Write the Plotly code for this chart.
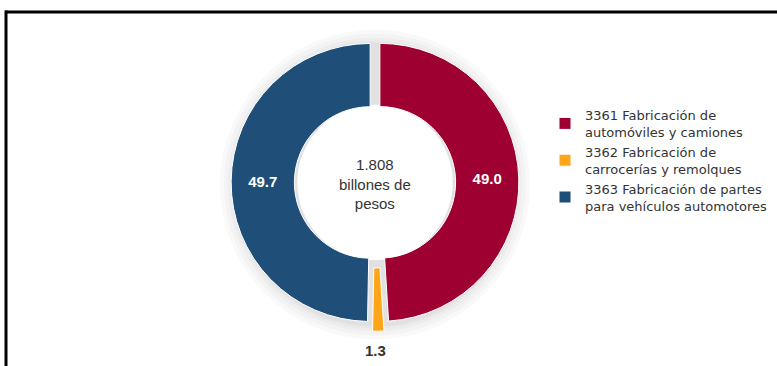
import plotly.graph_objects as go

W, H = 777, 366

labels = [
    "3361 Fabricación de<br>automóviles y camiones",
    "3362 Fabricación de<br>carrocerías y remolques",
    "3363 Fabricación de partes<br>para vehículos automotores",
]
values = [49.0, 1.3, 49.7]
value_text = ["49.0", "1.3", "49.7"]
colors = ["#9E0031", "#FFA51A", "#1F4E79"]
pulls = [0.035, 0.07, 0.035]
center_text = "1.808<br>billones de<br>pesos"

# geometry (pixels)
cx, cy, r = 375, 182.5, 139
HOLE = 0.545
maxpull = max(pulls)
half = r * (1 + maxpull)
FONT = "Liberation Sans, Arial, sans-serif"
LEGEND_FONT = "DejaVu Sans, Liberation Sans, sans-serif"

def px(x):
    return x / W

def py(y):
    return 1 - y / H

# inside labels on the big slices, the small slice labelled below the ring
slice_text = [t if v >= 5 else "" for t, v in zip(value_text, values)]
small_idx = [i for i, v in enumerate(values) if v < 5][0]

fig = go.Figure()
fig.add_trace(go.Pie(
    labels=labels,
    values=values,
    text=slice_text,
    textinfo="text",
    textposition="inside",
    textfont=dict(family=FONT, size=15, color="#FFFFFF", weight="bold"),
    insidetextorientation="horizontal",
    marker=dict(colors=colors, line=dict(color="white", width=1)),
    pull=pulls,
    hole=HOLE,
    sort=False,
    direction="clockwise",
    rotation=0,
    domain=dict(x=[px(cx - half), px(cx + half)], y=[py(cy + half), py(cy - half)]),
    hoverinfo="label+value",
))

shapes = []
# soft shadow behind donut
for extra in [16, 12, 8, 5, 3]:
    shapes.append(dict(
        type="circle", xref="paper", yref="paper", layer="below",
        x0=px(cx - r - extra), x1=px(cx + r + extra),
        y0=py(cy + r + extra + 2), y1=py(cy - r - extra + 2),
        fillcolor="rgba(0,0,0,0.022)", line=dict(width=0),
    ))
# keep hole white
hr = r * HOLE
shapes.append(dict(
    type="circle", xref="paper", yref="paper", layer="below",
    x0=px(cx - hr - 2), x1=px(cx + hr + 2), y0=py(cy + hr + 2), y1=py(cy - hr - 2),
    fillcolor="white", line=dict(width=0),
))
# frame lines
shapes.append(dict(type="line", xref="paper", yref="paper",
                   x0=px(5), x1=1.0, y0=py(12), y1=py(12),
                   line=dict(color="black", width=3)))
shapes.append(dict(type="line", xref="paper", yref="paper",
                   x0=px(6), x1=px(6), y0=py(10.5), y1=0,
                   line=dict(color="black", width=3)))

fig.update_layout(
    width=W, height=H,
    margin=dict(l=0, r=0, t=0, b=0),
    paper_bgcolor="white",
    plot_bgcolor="white",
    font=dict(family=FONT, size=14, color="#404040"),
    showlegend=True,
    legend=dict(
        x=px(545), y=py(100), xanchor="left", yanchor="top",
        font=dict(family=LEGEND_FONT, size=13, color="#333333"),
        itemwidth=30, tracegroupgap=0,
        bgcolor="rgba(0,0,0,0)",
    ),
    shapes=shapes,
    annotations=[
        dict(
            text=center_text, x=px(cx), y=py(cy + 2), xref="paper", yref="paper",
            yanchor="middle", xanchor="center",
            showarrow=False, font=dict(family=FONT, size=15, color="#333333"),
            align="center",
        ),
        dict(
            text="<b>" + value_text[small_idx] + "</b>", x=px(cx), y=py(350),
            xref="paper", yref="paper", showarrow=False, yanchor="middle",
            font=dict(family=FONT, size=15, color="#333333"),
        ),
    ],
)

fig.write_html("out.html")
